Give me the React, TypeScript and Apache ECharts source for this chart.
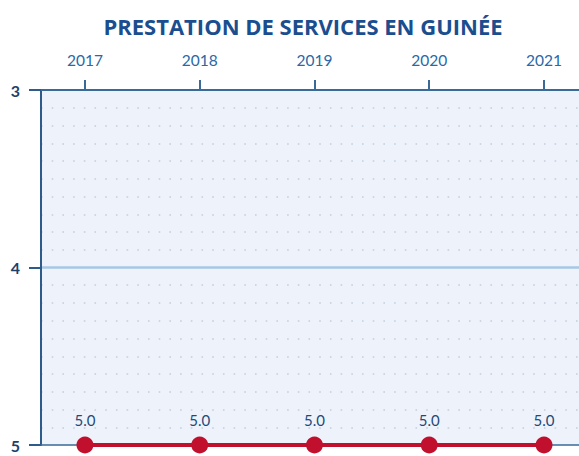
import React, { useEffect, useRef } from "react";
import * as echarts from "echarts";

const title = "PRESTATION DE SERVICES EN GUINÉE";
const years = [2017, 2018, 2019, 2020, 2021];
const values = [5.0, 5.0, 5.0, 5.0, 5.0];
const yTicks = [3, 4, 5];

export default function App() {
  const ref = useRef<HTMLDivElement>(null);
  useEffect(() => {
    if (!ref.current) return;
    const chart = echarts.init(ref.current, null, { renderer: "svg" });
    const font = "Lato, 'Open Sans', sans-serif";
    chart.setOption({
      animation: false,
      backgroundColor: "#ffffff",
      title: {
        text: title,
        left: 298,
        textAlign: "center",
        top: 10,
        textStyle: { fontFamily: "'Open Sans', sans-serif", fontWeight: 700, fontSize: 22, color: "#1a4e8f" },
      },
      grid: {
        left: 41,
        top: 90,
        right: 0,
        bottom: 11,
        show: true,
        backgroundColor: "#eef3fb",
        borderWidth: 0,
      },
      xAxis: [
        {
          type: "value",
          position: "top",
          min: 2016.617,
          max: 2021.305,
          axisLine: { show: true, lineStyle: { color: "#3a6a98", width: 2 } },
          axisTick: {
            show: true,
            customValues: years,
            length: 10,
            inside: false,
            lineStyle: { color: "#3a6a98", width: 2 },
          },
          axisLabel: {
            show: true,
            customValues: years,
            margin: 22,
            fontFamily: font,
            fontSize: 15.5,
            color: "#2a68a6",
            formatter: (v: number) => String(v),
          },
          splitLine: { show: false },
        },
        {
          type: "value",
          position: "bottom",
          min: 2016.617,
          max: 2021.305,
          axisLine: { show: true, onZero: false, lineStyle: { color: "#3a6a98", width: 1.5 } },
          axisTick: { show: false },
          axisLabel: { show: false },
          splitLine: { show: false },
        },
      ],
      yAxis: {
        type: "value",
        inverse: true,
        min: 3,
        max: 5,
        interval: 1,
        minorTick: { show: false, splitNumber: 10 },
        minorSplitLine: {
          show: true,
          lineStyle: { color: "#c3cedd", width: 1.6, type: [1.6, 9.1] },
        },
        axisLine: { show: true, lineStyle: { color: "#2d5b8a", width: 2 } },
        axisTick: { show: true, length: 12, lineStyle: { color: "#2d5b8a", width: 2 } },
        axisLabel: {
          margin: 21,
          fontFamily: font,
          fontWeight: 700,
          fontSize: 16,
          color: "#1f3f6b",
          customValues: yTicks,
        },
        splitLine: {
          show: true,
          showMinLine: false,
          showMaxLine: false,
          lineStyle: { color: "#a9c6e4", width: 2.5 },
        },
      },
      series: [
        {
          type: "line",
          xAxisIndex: 0,
          data: years.map((y, i) => [y, values[i]]),
          symbol: "circle",
          symbolSize: 17,
          itemStyle: { color: "#c0102e" },
          lineStyle: { color: "#c0102e", width: 4 },
          label: {
            show: true,
            position: "top",
            distance: 9,
            fontFamily: font,
            fontSize: 15,
            color: "#1f4a78",
            formatter: (p: any) => Number(p.value[1]).toFixed(1),
          },
          z: 5,
        },
      ],
    });
    return () => chart.dispose();
  }, []);
  return (
    <div
      ref={ref}
      style={{ position: "fixed", left: 0, top: 0, width: 579, height: 456 }}
    />
  );
}
